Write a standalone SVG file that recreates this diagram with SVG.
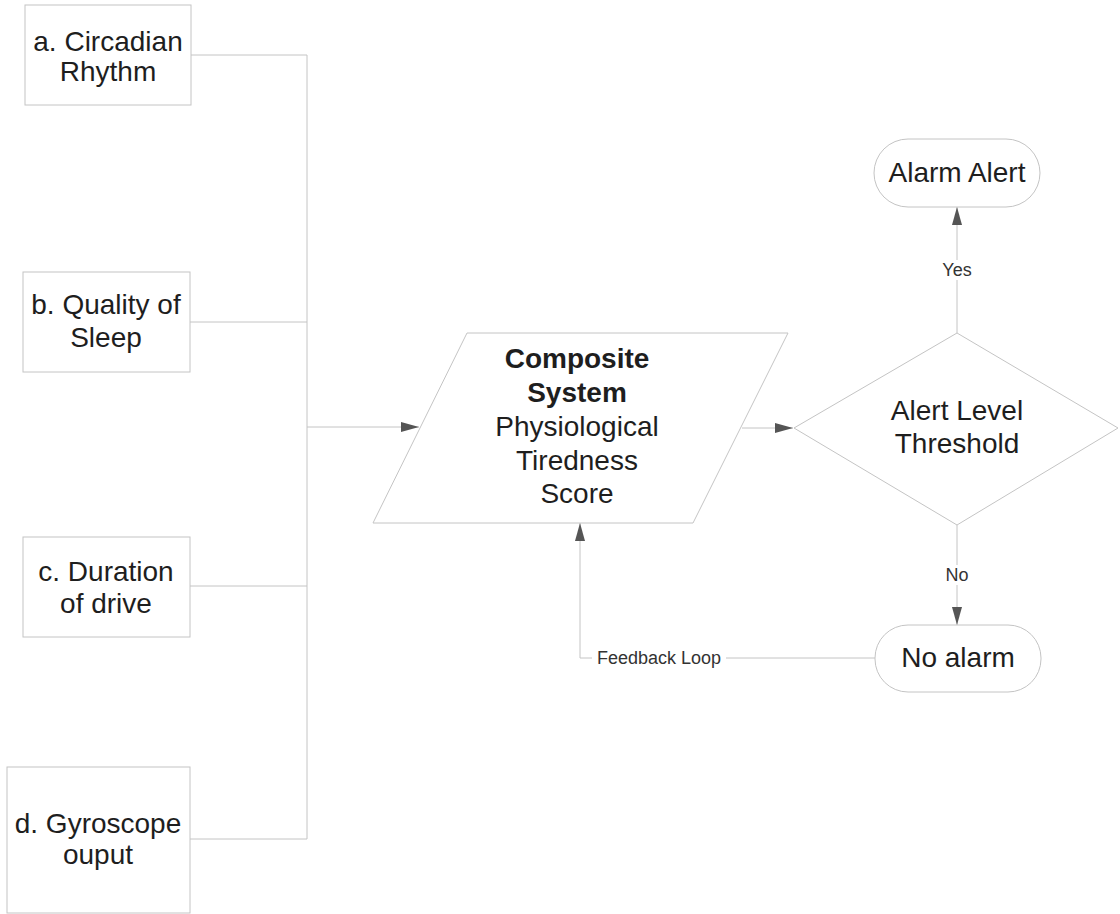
<svg xmlns="http://www.w3.org/2000/svg" width="1120" height="914" viewBox="0 0 1120 914">
<defs>
<marker id="arr" viewBox="0 0 18 10" refX="18" refY="5" markerWidth="18" markerHeight="10" markerUnits="userSpaceOnUse" orient="auto">
<path d="M0,0 L18,5 L0,10 Z" fill="#555"/>
</marker>
<style>
.shape{fill:#fff;stroke:#c4c4c4;stroke-width:1}
.conn{fill:none;stroke:#c4c4c4;stroke-width:1}
.t{font-family:"Liberation Sans",Arial,Helvetica,sans-serif;font-size:28px;fill:#1e1e1e;text-anchor:middle}
.b{font-weight:bold}
.s{font-family:"Liberation Sans",Arial,Helvetica,sans-serif;font-size:18px;fill:#333;text-anchor:middle}
</style>
</defs>
<rect width="1120" height="914" fill="#fff"/>
<g id="connectors">
<path class="conn" d="M191,55 H307 M190,322 H307 M190,586 H307 M190,839 H307 M307,55 V839"/>
<path class="conn" d="M307,427 H419" marker-end="url(#arr)"/>
<path class="conn" d="M742,428 H793" marker-end="url(#arr)"/>
<path class="conn" d="M957,333 V207" marker-end="url(#arr)"/>
<path class="conn" d="M957,525 V625" marker-end="url(#arr)"/>
<path class="conn" d="M875,658 H580 V523" marker-end="url(#arr)"/>
<rect x="940" y="260" width="34" height="20" fill="#fff"/>
<text class="s" x="957" y="276">Yes</text>
<rect x="944" y="565" width="26" height="20" fill="#fff"/>
<text class="s" x="957" y="581">No</text>
<rect x="592" y="647" width="134" height="22" fill="#fff"/>
<text class="s" x="659" y="664">Feedback Loop</text>
</g>
<g id="node-a">
<rect class="shape" x="25" y="5" width="166" height="100"/>
<text class="t" x="108" y="51">a. Circadian</text>
<text class="t" x="108" y="81">Rhythm</text>
</g>
<g id="node-b">
<rect class="shape" x="23" y="272" width="167" height="100"/>
<text class="t" x="106" y="314">b. Quality of</text>
<text class="t" x="106" y="347">Sleep</text>
</g>
<g id="node-c">
<rect class="shape" x="23" y="537" width="167" height="100"/>
<text class="t" x="106" y="581">c. Duration</text>
<text class="t" x="106" y="613">of drive</text>
</g>
<g id="node-d">
<rect class="shape" x="7" y="767" width="183" height="146"/>
<text class="t" x="98" y="833">d. Gyroscope</text>
<text class="t" x="98" y="864">ouput</text>
</g>
<g id="node-composite">
<polygon class="shape" points="467,333 788,333 693,523 373,523"/>
<text class="t b" x="577" y="368">Composite</text>
<text class="t b" x="577" y="402">System</text>
<text class="t" x="577" y="436">Physiological</text>
<text class="t" x="577" y="470">Tiredness</text>
<text class="t" x="577" y="503">Score</text>
</g>
<g id="node-threshold">
<polygon class="shape" points="957,333 1118,428 957,525 794,428"/>
<text class="t" x="957" y="420">Alert Level</text>
<text class="t" x="957" y="453">Threshold</text>
</g>
<g id="node-alarm">
<rect class="shape" x="874" y="139" width="166" height="68" rx="34" ry="34"/>
<text class="t" x="957" y="182">Alarm Alert</text>
</g>
<g id="node-noalarm">
<rect class="shape" x="875" y="625" width="166" height="67" rx="33" ry="33"/>
<text class="t" x="958" y="667">No alarm</text>
</g>
</svg>
